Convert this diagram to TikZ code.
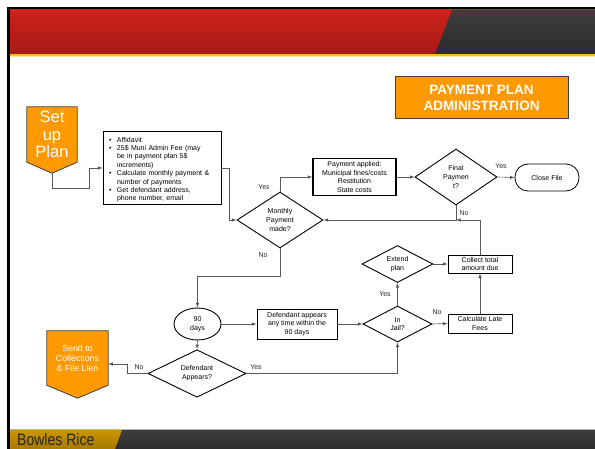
\documentclass[tikz,border=0pt]{standalone}
\usepackage{fontspec}
\setmainfont{Liberation Sans}
\usetikzlibrary{shapes.geometric,backgrounds}

\definecolor{ppOrange}{HTML}{FF9900}
\definecolor{hdrTop}{HTML}{CC2219}
\definecolor{hdrBot}{HTML}{A81B17}
\definecolor{hdrYellow}{HTML}{FFC000}
\definecolor{slateTop}{HTML}{3E3E3E}
\definecolor{slateBot}{HTML}{2C2C2C}
\definecolor{goldTop}{HTML}{C99500}
\definecolor{goldBot}{HTML}{A87A00}

\newcommand{\bul}[1]{\par\hangindent=12pt\hangafter=1\noindent\makebox[12pt][l]{\hspace{4pt}\textbullet}#1}

\begin{document}
\begin{tikzpicture}[>=latex, x=1pt, y=-1pt,
    every node/.style={font=\fontsize{7}{8.7}\selectfont},
    box/.style={draw, line width=.9pt, align=center, inner sep=1pt},
    dia/.style={draw, diamond, line width=.9pt, align=center, inner sep=0pt},
    sign/.style={align=center, text=white, inner sep=0pt},
    link/.style={draw=black!65, line width=.6pt, ->},
    lbl/.style={inner sep=0pt, text=black!85}]
\useasboundingbox (0,0) rectangle (595,449);
% slide frame, header and footer
\fill[black] (7,7) rectangle (595,10);
\fill[black] (7,7) rectangle (10,449);
\shade[top color=hdrTop, bottom color=hdrBot] (10,10) rectangle (595,54);
\shade[top color=slateTop, bottom color=slateBot] (452,10) -- (595,10) -- (595,54) -- (435,54) -- cycle;
\fill[hdrYellow] (10,54) rectangle (595,56.5);
\fill[hdrYellow!35] (10,56.5) rectangle (595,57.5);
\fill[black!30] (10,428.5) rectangle (595,430);
\shade[top color=slateTop, bottom color=slateBot] (10,430) rectangle (595,449);
\shade[top color=goldTop, bottom color=goldBot] (10,430) -- (122,430) -- (115,449) -- (10,449) -- cycle;
\node[anchor=base west, inner sep=0pt, text=black!85, font=\fontsize{16.5}{16.5}\selectfont] (brand) at (17,445)
    {\scalebox{.85}[1]{Bowles Rice}};

% title
\node[draw=black!75, line width=1pt, fill=ppOrange, text=white, align=center,
    minimum width=173pt, minimum height=42pt, font=\bfseries\fontsize{13.5}{16.5}\selectfont] (title)
    at (481.5,98) {PAYMENT PLAN\\ADMINISTRATION};

% flow
\node[sign, minimum width=50pt, minimum height=55pt, font=\fontsize{16.5}{17.5}\selectfont] (setup)
    at (52,134.5) {Set\\up\\Plan};
\coordinate (setuptip) at ([yshift=-11pt]setup.south);
\node[box, text width=114pt, align=left, inner sep=2pt, minimum height=72pt, font=\fontsize{7}{8.4}\selectfont] (list)
    at (162,168) {\bul{Affidavit}
    \bul{25\$ Muni Admin Fee (may\newline be in payment plan 5\$\newline increments)}
    \bul{Calculate monthly payment \&\newline number of payments}
    \bul{Get defendant address,\newline phone number, email}\par};
\node[dia, minimum width=86pt, minimum height=56pt] (monthly) at (280,220) {Monthly\\Payment\\made?};
\node[box, line width=1.1pt, minimum width=83pt, minimum height=37pt] (paid) at (354.5,177)
    {Payment applied:\\Municipal fines/costs\\Restitution\\State costs};
\node[dia, minimum width=82pt, minimum height=56pt] (final) at (456,177) {Final\\Paymen\\t?};
\node[draw, line width=.8pt, rounded corners=13pt, minimum width=64pt, minimum height=27pt] (close)
    at (547,177.5) {Close File};
\node[box, minimum width=64pt, minimum height=18pt, inner sep=0pt] (collect) at (480,264) {Collect total\\amount due};
\node[box, minimum width=64pt, minimum height=19pt, inner sep=0pt] (calc) at (480,323.5) {Calculate Late\\Fees};
\node[dia, minimum width=71pt, minimum height=36pt] (extend) at (397.5,264) {Extend\\plan};
\node[dia, minimum width=69pt, minimum height=36pt] (jail) at (397.5,324) {In\\Jail?};
\node[draw, ellipse, line width=.9pt, align=center, inner sep=0pt, minimum width=47pt, minimum height=32pt] (days)
    at (197.5,324) {90\\days};
\node[box, minimum width=80pt, minimum height=30pt] (appears) at (297,324)
    {Defendant appears\\any time within the\\90 days};
\node[dia, minimum width=98pt, minimum height=43pt] (defapp) at (197,373.5) {Defendant\\Appears?};
\node[sign, minimum width=61pt, minimum height=54pt, font=\fontsize{8.8}{10}\selectfont] (send)
    at (77.5,358) {Send to\\Collections\\\& File Lien};
\coordinate (sendtip) at ([yshift=-13pt]send.south);

\begin{scope}[on background layer]
\fill[white] (0,0) rectangle (595,449);
\filldraw[fill=ppOrange, draw=black!75, line width=.8pt] (setup.north west) -- (setup.north east)
    -- (setup.south east) -- (setuptip) -- (setup.south west) -- cycle;
\filldraw[fill=ppOrange, draw=black!75, line width=.8pt] (send.north west) -- (send.north east)
    -- (send.south east) -- (sendtip) -- (send.south west) -- cycle;
\end{scope}

% connectors
\draw[link] (setuptip) -- ++(0,15) -| ([xshift=-13pt]list.west) -- (list.west);
\draw[link] (list.east) -- ++(8,0) |- (monthly.west);
\draw[link] (monthly.north) |- (paid.west);
\draw[link] (paid.east) -- (final.west);
\draw[link] (final.east) -- (close.west);
\draw[link] (final.south) |- (monthly.east);
\draw[link] (collect.north) |- (final.south |- monthly.east);
\draw[link] (calc.north) -- (collect.south);
\draw[link] (extend.east) -- (collect.west);
\draw[link] (jail.north) -- (extend.south);
\draw[link] (jail.east) -- (calc.west);
\draw[link] (monthly.south) -- ++(0,28) -| (days.north);
\draw[link] (days.east) -- (appears.west);
\draw[link] (appears.east) -- (jail.west);
\draw[link] (days.south) -- (defapp.north);
\draw[link] (defapp.east) -| (jail.south);
\draw[link] (defapp.west) -- ++(-20,0) |- ([yshift=-6pt]send.east);

% labels
\node[lbl] (yes1) at (264,187) {Yes};
\node[lbl] (yes2) at (501,166) {Yes};
\node[lbl] (no1) at (464,213) {No};
\node[lbl] (no2) at (263,255) {No};
\node[lbl] (yes3) at (385,294) {Yes};
\node[lbl] (no3) at (437,312) {No};
\node[lbl] (yes4) at (256,367.5) {Yes};
\node[lbl] (no4) at (139,367.5) {No};
\end{tikzpicture}
\end{document}
